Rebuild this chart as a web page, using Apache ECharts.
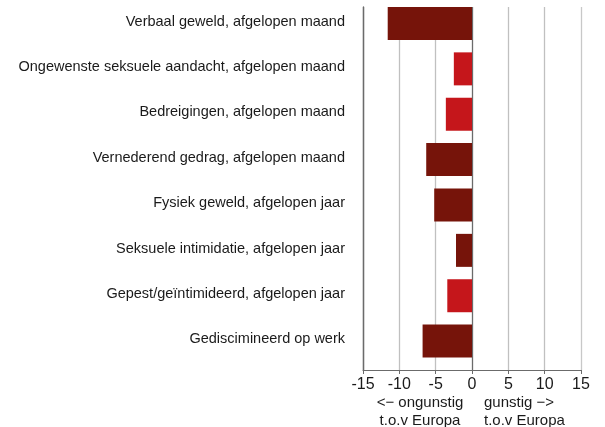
<!DOCTYPE html>
<html>
<head>
<meta charset="utf-8">
<script src="https://cdn.jsdelivr.net/npm/echarts@6/dist/echarts.min.js"></script>
<style>
  html, body { margin: 0; padding: 0; background: #fff; }
  #chart { width: 605px; height: 427px; }
</style>
</head>
<body>
<div id="chart"></div>
<script>
var categories = [
  'Verbaal geweld, afgelopen maand',
  'Ongewenste seksuele aandacht, afgelopen maand',
  'Bedreigingen, afgelopen maand',
  'Vernederend gedrag, afgelopen maand',
  'Fysiek geweld, afgelopen jaar',
  'Seksuele intimidatie, afgelopen jaar',
  'Gepest/geïntimideerd, afgelopen jaar',
  'Gediscimineerd op werk'
];
// donkerrood en felrood (uitgelicht) staan in aparte reeksen
var darkValues   = [-11.6, '-', '-', -6.3, -5.2, -2.2, '-', -6.8];
var brightValues = ['-', -2.5, -3.6, '-', '-', '-', -3.4, '-'];
var spacerValues = ['-', '-', '-', '-', '-', '-', '-', '-'];
var xTicks = { min: -15, max: 15, interval: 5 };

var chart = echarts.init(document.getElementById('chart'));
var font = '"Liberation Sans", Arial, sans-serif';

var option = {
  animation: false,
  grid: { left: 363, right: 24, top: 7, bottom: 57 },
  xAxis: {
    type: 'value',
    min: xTicks.min,
    max: xTicks.max,
    interval: xTicks.interval,
    axisLine: { show: true, onZero: false, lineStyle: { color: '#6b6b6b', width: 1 } },
    axisTick: { show: true, length: 4, lineStyle: { color: '#6b6b6b' } },
    axisLabel: { color: '#1a1a1a', fontSize: 16, fontFamily: font, margin: 7 },
    splitLine: {
      show: true,
      lineStyle: { color: ['#6b6b6b', '#c0c0c0', '#c0c0c0', '#6b6b6b', '#c0c0c0', '#c0c0c0', '#c8c8c8'], width: 1.3 }
    }
  },
  yAxis: {
    type: 'category',
    inverse: true,
    data: categories,
    axisLine: { show: true, onZero: false, lineStyle: { color: '#6b6b6b', width: 1.3 } },
    axisTick: { show: false },
    axisLabel: {
      color: '#1a1a1a', fontSize: 14.5, fontFamily: font, margin: 18, lineHeight: 16,
      // lege tweede regel schuift het label naar de balk toe
      formatter: function (v) { return v + '\n'; }
    },
    splitLine: { show: false }
  },
  series: [
    {
      name: 'donker',
      type: 'bar',
      stack: 'a',
      data: darkValues,
      barWidth: 33,
      barGap: '0%',
      itemStyle: { color: '#76140a' }
    },
    {
      name: 'fel',
      type: 'bar',
      stack: 'a',
      data: brightValues,
      barWidth: 33,
      itemStyle: { color: '#c5161b' }
    },
    {
      name: 'ruimte',
      type: 'bar',
      data: spacerValues,
      barWidth: 12.4,
      barGap: '0%',
      silent: true
    }
  ],
  graphic: [
    {
      type: 'text', x: 420, y: 394,
      style: { text: '<\u2212 ongunstig\nt.o.v Europa', font: '15px ' + font, fill: '#1a1a1a', align: 'center', lineHeight: 18 }
    },
    {
      type: 'text', x: 484, y: 394,
      style: { text: 'gunstig \u2212>\nt.o.v Europa', font: '15px ' + font, fill: '#1a1a1a', align: 'left', lineHeight: 18 }
    }
  ]
};
chart.setOption(option);
</script>
</body>
</html>
